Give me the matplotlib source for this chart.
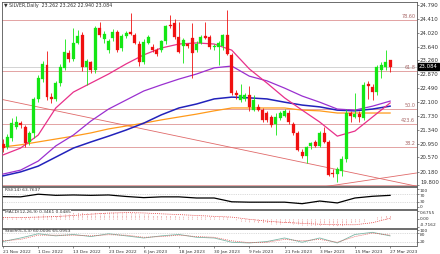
import matplotlib
matplotlib.use("Agg")
import matplotlib.pyplot as plt
import matplotlib.transforms as mtransforms
import numpy as np

# ---------------- data ----------------
dates = ["21 Nov 2022", "1 Dec 2022", "13 Dec 2022", "23 Dec 2022", "6 Jan 2023",
         "18 Jan 2023", "30 Jan 2023", "9 Feb 2023", "21 Feb 2023", "3 Mar 2023",
         "15 Mar 2023", "27 Mar 2023"]
date_idx = [0, 8, 16, 24, 32, 40, 48, 56, 64, 72, 80, 88]

opens = [20.95, 20.87, 21.10, 21.42, 21.52, 21.40, 21.00, 21.24, 22.18, 22.73,
         23.13, 22.25, 22.20, 22.62, 23.04, 23.45, 23.29, 23.75, 23.96, 23.08,
         23.20, 23.00, 24.15, 23.85, 23.55, 23.87, 24.05, 23.60, 23.93, 24.05,
         23.95, 23.70, 23.22, 23.75, 23.64, 23.55, 23.55, 23.78, 24.24, 24.30,
         23.90, 23.66, 23.70, 23.88, 23.55, 23.75, 23.92, 23.90, 23.62, 23.64,
         23.66, 23.96, 23.40, 22.36, 22.16, 22.18, 22.30, 21.89, 21.98, 21.89,
         21.80, 21.70, 21.50, 21.66, 21.72, 21.80, 21.50, 21.25, 20.72, 20.62,
         20.88, 21.00, 20.90, 21.24, 21.01, 20.15, 20.12, 20.20, 20.52, 21.80,
         21.70, 21.78, 21.66, 22.60, 22.51, 22.39, 22.99, 23.08, 23.262]
highs = [21.08, 21.22, 21.66, 21.72, 21.58, 21.48, 21.30, 22.25, 22.85, 23.24,
         23.53, 22.35, 22.70, 23.15, 23.84, 23.55, 24.15, 24.10, 24.05, 23.30,
         23.25, 24.22, 24.33, 24.08, 23.85, 24.12, 24.10, 23.98, 24.08, 24.56,
         24.02, 23.78, 23.85, 23.95, 23.70, 23.60, 23.82, 24.25, 24.51, 24.40,
         24.33, 23.88, 23.75, 24.30, 23.78, 23.95, 24.33, 23.95, 23.72, 23.80,
         24.00, 24.65, 23.45, 22.45, 22.60, 22.35, 22.55, 22.30, 22.05, 21.95,
         21.85, 21.75, 21.80, 21.85, 21.92, 21.88, 21.55, 21.30, 20.80, 20.90,
         21.00, 21.05, 21.30, 21.40, 21.05, 20.25, 20.30, 20.62, 21.90, 21.85,
         22.35, 21.85, 22.65, 22.68, 22.60, 23.12, 23.20, 23.55, 23.262]
lows = [20.72, 20.80, 21.02, 21.35, 21.38, 20.85, 20.92, 21.10, 22.10, 22.65,
        22.15, 22.08, 22.12, 22.55, 22.98, 23.20, 23.25, 23.70, 22.95, 22.58,
        22.90, 22.90, 23.90, 23.75, 23.45, 23.80, 23.50, 23.52, 23.88, 23.95,
        23.70, 23.10, 23.15, 23.70, 23.50, 23.38, 23.50, 23.72, 24.15, 23.85,
        23.45, 23.18, 23.60, 22.76, 23.50, 23.70, 23.85, 23.58, 23.55, 23.13,
        23.55, 23.40, 22.30, 22.20, 22.10, 22.12, 21.85, 21.85, 21.85, 21.55,
        21.55, 21.42, 21.20, 21.60, 21.68, 21.50, 21.20, 20.75, 20.55, 20.41,
        20.80, 20.85, 20.85, 20.98, 20.05, 20.02, 19.90, 20.05, 20.45, 21.55,
        21.65, 21.55, 21.60, 22.20, 22.16, 22.30, 22.76, 23.00, 22.940]
closes = [20.83, 21.15, 21.52, 21.55, 21.47, 20.98, 21.25, 22.18, 22.76, 23.15,
          22.25, 22.18, 22.62, 23.08, 23.50, 23.29, 23.75, 23.93, 23.08, 23.23,
          23.00, 24.15, 23.96, 24.00, 23.78, 24.05, 23.55, 23.92, 24.02, 24.00,
          23.75, 23.22, 23.77, 23.90, 23.55, 23.44, 23.78, 24.20, 24.20, 23.90,
          23.50, 23.83, 23.65, 23.45, 23.72, 23.90, 23.88, 23.63, 23.66, 23.75,
          23.96, 23.43, 22.36, 22.30, 22.30, 22.30, 21.98, 22.16, 21.89, 21.61,
          21.61, 21.47, 21.70, 21.80, 21.85, 21.55, 21.26, 20.78, 20.60, 20.85,
          20.97, 20.88, 21.24, 21.01, 20.09, 20.10, 20.26, 20.52, 21.80, 21.72,
          21.76, 21.70, 22.58, 22.55, 22.39, 23.08, 23.13, 23.22, 23.084]

ma_idx = [0, 4, 8, 12, 16, 20, 24, 28, 32, 36, 40, 44, 48, 52, 56, 60, 64, 68, 72, 76, 80, 84, 88]
ma_pink = [20.64, 20.83, 21.19, 21.94, 22.38, 22.63, 22.88, 23.16, 23.41, 23.60, 23.71, 23.74,
           23.71, 23.54, 23.02, 22.63, 22.22, 21.88, 21.55, 21.16, 21.30, 21.69, 22.08]
ma_purple = [20.11, 20.22, 20.47, 20.89, 21.19, 21.58, 21.91, 22.16, 22.41, 22.58, 22.74, 22.88,
             23.05, 23.10, 22.82, 22.69, 22.49, 22.27, 22.10, 21.91, 21.88, 21.99, 22.13]
ma_blue = [20.06, 20.17, 20.33, 20.58, 20.83, 21.00, 21.16, 21.33, 21.52, 21.75, 21.94, 22.05,
           22.19, 22.24, 22.22, 22.19, 22.10, 22.02, 21.97, 21.88, 21.86, 21.91, 21.99]
ma_orange = [20.86, 20.92, 21.00, 21.08, 21.16, 21.25, 21.36, 21.44, 21.52, 21.61, 21.69, 21.77,
             21.86, 21.94, 21.94, 21.94, 21.94, 21.88, 21.86, 21.80, 21.80, 21.80, 21.80]

fib_levels = [24.375, 22.96, 21.91, 21.50, 20.86, 19.795]
fib_labels = ["78.60", "61.8", "50.0", "423.6", "38.2", ""]
trend_down_idx = [0, 94]
trend_down_val = [22.17, 19.775]
trend_up_idx = [73, 94]
trend_up_val = [19.76, 20.14]

price_ticks = [24.790, 24.410, 24.020, 23.640, 23.260, 22.870, 22.490, 22.100,
               21.730, 21.340, 20.950, 20.570, 20.180, 19.800]
last_price = 23.084

rsi_idx = ma_idx
rsi_val = [57, 56, 70, 64, 66, 64, 66, 58, 52, 56, 56, 50, 50, 30, 28, 28, 28, 20, 34, 24, 50, 59, 64]

macd_hist = [0.12, 0.13, 0.15, 0.18, 0.20, 0.18, 0.18, 0.24, 0.32, 0.40,
             0.38, 0.36, 0.38, 0.43, 0.50, 0.53, 0.58, 0.62, 0.58, 0.55,
             0.53, 0.60, 0.63, 0.63, 0.60, 0.60, 0.57, 0.55, 0.55, 0.53,
             0.50, 0.45, 0.43, 0.42, 0.38, 0.35, 0.33, 0.35, 0.36, 0.33,
             0.28, 0.28, 0.26, 0.23, 0.22, 0.22, 0.20, 0.18, 0.17, 0.16,
             0.17, 0.13, -0.02, -0.12, -0.20, -0.25, -0.30, -0.33, -0.36, -0.40,
             -0.42, -0.45, -0.45, -0.44, -0.42, -0.43, -0.45, -0.50, -0.55, -0.57,
             -0.57, -0.57, -0.54, -0.52, -0.57, -0.62, -0.64, -0.62, -0.50, -0.42,
             -0.34, -0.28, -0.16, -0.06, 0.00, 0.12, 0.22, 0.30, 0.3461]
macd_sig_idx = ma_idx
macd_sig = [0.10, 0.12, 0.15, 0.20, 0.30, 0.42, 0.52, 0.56, 0.53, 0.45, 0.38, 0.30, 0.22,
            0.15, -0.05, -0.22, -0.34, -0.42, -0.50, -0.55, -0.55, -0.36, 0.0485]

stoch_idx = ma_idx
stoch_main = [20, 45, 75, 60, 70, 55, 75, 60, 45, 60, 70, 50, 45, 15, 10, 20, 45, 15, 45, 10, 70, 85, 60]
stoch_sig = [25, 35, 65, 65, 65, 60, 68, 65, 50, 55, 65, 55, 50, 25, 12, 15, 35, 25, 35, 15, 55, 80, 65.1]

# ---------------- figure ----------------
W, H = 440, 254
fig = plt.figure(figsize=(W / 100, H / 100), dpi=100)
fig.patch.set_facecolor("white")
FS = 3.9
FS_SMALL = 3.2
TXT = "#333333"


def rect(x0, y0, x1, y1):
    return [x0 / W, 1 - y1 / H, (x1 - x0) / W, (y1 - y0) / H]


ax = fig.add_axes(rect(2, 2, 416.5, 186))
ax_rsi = fig.add_axes(rect(2, 187, 416.5, 209), sharex=ax)
ax_macd = fig.add_axes(rect(2, 210, 416.5, 227.5), sharex=ax)
ax_st = fig.add_axes(rect(2, 228.5, 416.5, 245.5), sharex=ax)

for a in (ax, ax_rsi, ax_macd, ax_st):
    for s in a.spines.values():
        s.set_linewidth(0.6)
        s.set_color("#555555")
    a.yaxis.tick_right()
    a.tick_params(axis="y", labelsize=FS_SMALL, length=1.5, width=0.4, pad=1, colors=TXT)
    a.tick_params(axis="x", length=0, labelbottom=False)
    a.set_facecolor("white")
ax.tick_params(axis="y", labelsize=FS)

ax.set_xlim(-0.23, 94.0)
ax.set_ylim(19.78, 24.873)

n = len(closes)
xi = np.arange(n)
o = np.array(opens); c = np.array(closes); h = np.array(highs); l = np.array(lows)
up = c >= o
GREEN = "#14e614"
RED = "#f01010"
cols = np.where(up, GREEN, RED)

# fib / horizontal lines
for lv, lb in zip(fib_levels, fib_labels):
    ax.axhline(lv, color="#e3a3a3", lw=0.7, zorder=1)
    if lb:
        ax.text(93.7, lv + 0.02, lb, fontsize=3.5, color="#a86868", ha="right", va="bottom", zorder=5)
ax.axhline(last_price, color="#cccccc", lw=0.6, zorder=1)

# trend lines
ax.plot(trend_down_idx, trend_down_val, color="#e06a6a", lw=0.6, zorder=2)
ax.plot(trend_up_idx, trend_up_val, color="#e06a6a", lw=0.6, zorder=2)

# moving averages
ax.plot(ma_idx, ma_orange, color="#ff9a1a", lw=0.9, zorder=3)
ax.plot(ma_idx, ma_blue, color="#2222bb", lw=1.1, zorder=3)
ax.plot(ma_idx, ma_purple, color="#9a30d0", lw=0.9, zorder=3)
ax.plot(ma_idx, ma_pink, color="#e8308a", lw=0.9, zorder=3)

# candles
ax.vlines(xi, l, h, colors=cols, lw=0.6, zorder=4)
body_b = np.minimum(o, c)
body_h = np.maximum(np.abs(c - o), 0.03)
ax.bar(xi, body_h, bottom=body_b, width=0.68, color=cols, edgecolor=cols, lw=0.2, zorder=5)

ax.set_yticks(price_ticks)
ax.set_yticklabels([f"{v:.3f}" for v in price_ticks])
for t in ax.get_yticklabels():
    if t.get_text() == "19.800":
        t.set_va("bottom")

# current price tag
trans = mtransforms.blended_transform_factory(ax.transAxes, ax.transData)
ax.text(1.006, last_price, f"{last_price:.3f}", transform=trans, fontsize=FS, color="white",
        va="center", ha="left", zorder=10,
        bbox=dict(boxstyle="square,pad=0.15", fc="black", ec="black"))

fig.text(4 / W, 1 - 5 / H, "\u25BC SILVER,Daily  23.262 23.262 22.940 23.084", fontsize=3.4,
         color=TXT, va="center", ha="left")

# RSI
ax_rsi.set_ylim(-8, 108)
ax_rsi.axhline(70, color="#bbbbbb", lw=0.4, ls=(0, (2, 2)))
ax_rsi.axhline(30, color="#bbbbbb", lw=0.4, ls=(0, (2, 2)))
ax_rsi.plot(rsi_idx, rsi_val, color="black", lw=0.9)
ax_rsi.set_yticks([100, 70, 30, 0])
ax_rsi.set_yticklabels(["100", "70", "30", "0"])
rl = ax_rsi.get_yticklabels()
rl[0].set_va("top")
rl[1].set_va("top")
rl[3].set_va("center")
ax_rsi.text(0.4, 104, "RSI(14) 63.7637", fontsize=FS_SMALL, color=TXT, va="top", ha="left")

# MACD
ax_macd.set_ylim(-0.80, 0.80)
ax_macd.vlines(xi, 0, macd_hist, colors="#e07070", lw=0.5, linestyles=(0, (1, 1)))
ax_macd.plot(macd_sig_idx, macd_sig, color="#e03030", lw=0.5, ls=(0, (1.5, 1.5)))
ax_macd.set_yticks([0.6755, 0.0, -0.7162])
ax_macd.set_yticklabels(["0.6755", "0.00", "-0.7162"])
ml = ax_macd.get_yticklabels()
ml[0].set_va("top")
ml[2].set_va("bottom")
ax_macd.text(0.4, 0.78, "MACD(12,26,9) 0.3461 0.0485", fontsize=FS_SMALL, color=TXT, va="top", ha="left",
             bbox=dict(boxstyle="square,pad=0.05", fc="white", ec="none"))

# Stochastic
ax_st.set_ylim(-8, 112)
ax_st.axhline(80, color="#bbbbbb", lw=0.4, ls=(0, (2, 2)))
ax_st.axhline(20, color="#bbbbbb", lw=0.4, ls=(0, (2, 2)))
ax_st.plot(stoch_idx, stoch_main, color="#7fb8a8", lw=0.6)
ax_st.plot(stoch_idx, stoch_sig, color="#e05050", lw=0.5, ls=(0, (1.5, 1.5)))
ax_st.set_yticks([100, 80, 20])
ax_st.set_yticklabels(["100", "80", "20"])
sl = ax_st.get_yticklabels()
sl[1].set_va("top")
ax_st.text(0.4, 108, "Stoch(5,3,3) 60.0006 65.0953", fontsize=FS_SMALL, color=TXT, va="top", ha="left")

# x labels
ax_st.set_xticks(date_idx)
ax_st.tick_params(axis="x", labelbottom=True, labelsize=3.2, length=1.5, width=0.4, pad=1.5, colors=TXT)
ax_st.set_xticklabels(dates, ha="left")

fig.savefig("out.png", dpi=100, facecolor="white")
